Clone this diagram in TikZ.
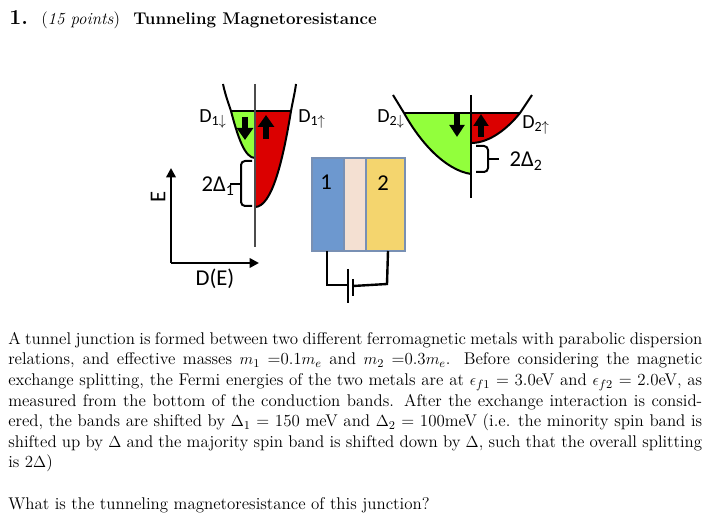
\documentclass[tikz,border=0pt]{standalone}
\usepackage{fontspec}
\newfontfamily\labelfont{Carlito}
\usetikzlibrary{arrows.meta}
\definecolor{bandgreen}{RGB}{146,255,60}
\definecolor{bandred}{RGB}{219,0,0}
\definecolor{layerblue}{RGB}{109,152,207}
\definecolor{layerpeach}{RGB}{244,224,210}
\definecolor{layeryellow}{RGB}{244,213,110}
\definecolor{layeredge}{RGB}{120,144,180}
\tikzset{
  curve/.style={line width=1.5pt},
  wire/.style={line width=1.8pt},
  layer/.style={draw=layeredge,line width=0.8pt},
  spin/.style={line width=5pt,-{Triangle[length=9pt,width=12pt]}},
  spinthin/.style={line width=4pt,-{Triangle[length=9pt,width=11pt]}},
  lbl/.style={inner sep=0pt,font=\labelfont\fontsize{15}{17}\selectfont},
  lblbig/.style={inner sep=0pt,font=\labelfont\fontsize{17}{19}\selectfont},
  body/.style={anchor=north west,inner sep=0pt,text width=520.5pt,align=justify,font=\fontsize{12.7}{15.45}\selectfont}
}
\begin{document}
\begin{tikzpicture}[x=0.75pt,y=0.75pt,yscale=-1,xscale=1]
\useasboundingbox (0,0) rectangle (713,523);

% Title
\node (title) [anchor=base west,inner sep=0pt,font=\fontsize{12.7}{15}\selectfont] at (9,25) {\textbf{\fontsize{16}{18}\selectfont 1.}\hspace{10pt}(\textit{15 points})\hspace{10pt}\textbf{Tunneling Magnetoresistance}};

% Left bands
\fill[bandgreen] (231,111) .. controls (238,138) and (245,158) .. (255,158) -- (255,111) -- cycle;
\fill[bandred] (255,207) .. controls (272,207) and (283,160) .. (291,111) -- (255,111) -- cycle;
\draw[curve] (223,84) .. controls (225,94) and (229,105) .. (231,111) .. controls (238,138) and (245,158) .. (255,158);
\draw[curve] (255,207) .. controls (272,207) and (283,160) .. (291,111) .. controls (293,100) and (295,92) .. (296,84);
\draw[line width=1.8pt] (231,111) -- (291,111);
\draw[line width=1.1pt,black!70] (255,84) -- (255,247);
\draw[spin] (245,117) -- (245,140);
\draw[spin] (266,139) -- (266,115);

% Left brace
\draw[curve,rounded corners=3pt] (252,161) -- (241,161) -- (241,206) -- (252,206);
\draw[curve] (241,184) -- (230,184);

% Axes
\draw[wire,-{Triangle[length=7pt,width=7pt]}] (171,263) -- (171,168);
\draw[wire,-{Triangle[length=7pt,width=7pt]}] (171,263) -- (259,263);

% Right bands
\fill[bandgreen] (404,113) .. controls (420,142) and (445,170) .. (471,174) -- (471,113) -- cycle;
\fill[bandred] (471,143) .. controls (490,143) and (508,128) .. (520,113) -- (471,113) -- cycle;
\draw[curve] (393,95) -- (404,113) .. controls (420,142) and (445,170) .. (471,174);
\draw[curve] (471,143) .. controls (490,143) and (508,128) .. (520,113) -- (532,95);
\draw[line width=1.3pt] (404,113) -- (520,113);
\draw[line width=1.5pt] (471,95) -- (471,198);
\draw[spinthin] (457,114) -- (457,137);
\draw[spinthin] (481,137) -- (481,114);

% Right brace
\draw[curve,rounded corners=3pt] (476,146) -- (488,146) -- (488,172) -- (476,172);
\draw[curve] (488,159) -- (499,159);

% Junction layers
\draw[layer,fill=layerblue] (312,158) rectangle (344,251);
\draw[layer,fill=layerpeach] (344,158) rectangle (366,251);
\draw[layer,fill=layeryellow] (366,158) rectangle (405,251);

% Battery circuit
\draw[wire] (327,251) -- (327,285) -- (348,285);
\draw[wire] (353,286) -- (387,284) -- (388,251);
\draw[wire] (348,269) -- (348,303);
\draw[wire] (353,279) -- (353,296);

% Text Node
\node (dosdown1) [lbl] at (213,119) {D\textsubscript{1$\downarrow$}};
\node (dosup1) [lbl] at (312,119) {D\textsubscript{1$\uparrow$}};
\node (dosdown2) [lbl] at (391,119) {D\textsubscript{2$\downarrow$}};
\node (dosup2) [lbl] at (536,125) {D\textsubscript{2$\uparrow$}};
\node (split1) [lblbig] at (218,186) {2Δ\textsubscript{1}};
\node (split2) [lblbig] at (526,161) {2Δ\textsubscript{2}};
\node (energy) [lblbig,rotate=90] at (158,197) {E};
\node (dose) [lblbig] at (215,279) {D(E)};
\node (metal1) [lblbig] at (326,182) {1};
\node (metal2) [lblbig] at (383,183) {2};

% Problem text
\node (problem) [body] at (8,332) {A tunnel junction is formed between two different ferromagnetic metals with parabolic dispersion\linebreak
relations, and effective masses $m_1$ =0.1$m_e$ and $m_2$ =0.3$m_e$. Before considering the magnetic\linebreak
exchange splitting, the Fermi energies of the two metals are at $\epsilon_{f1}$ = 3.0eV and $\epsilon_{f2}$ = 2.0eV, as\linebreak
measured from the bottom of the conduction bands. After the exchange interaction is consid-\linebreak
ered, the bands are shifted by $\Delta_1$ = 150 meV and $\Delta_2$ = 100meV (i.e. the minority spin band is\linebreak
shifted up by $\Delta$ and the majority spin band is shifted down by $\Delta$, such that the overall splitting\linebreak
is 2$\Delta$)};
\node (question) [body] at (8,497) {What is the tunneling magnetoresistance of this junction?};

\end{tikzpicture}
\end{document}
